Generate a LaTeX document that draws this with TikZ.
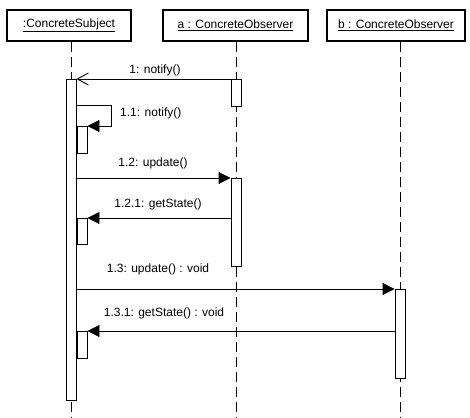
\documentclass[tikz,border=0pt]{standalone}
\usepackage{fontspec}
\setmainfont{Liberation Sans}
\usetikzlibrary{arrows.meta}

\begin{document}
\begin{tikzpicture}[
        x=1pt, y=-1pt,
        font=\fontsize{12}{14}\selectfont,
        head/.style={draw, line width=1.5pt, minimum height=31pt, inner sep=0pt},
        life/.style={draw, line width=0.9pt, dash pattern=on 10pt off 5pt},
        act/.style={draw, fill=white, line width=0.9pt, minimum width=10pt,
                    inner sep=0pt, anchor=north},
        call/.style={draw, line width=0.9pt, -{Triangle[length=12pt, width=12pt]}},
        async/.style={draw, line width=0.9pt, -{Straight Barb[length=11pt, width=12pt]}},
        lbl/.style={inner sep=0pt, anchor=base},
    ]

    \useasboundingbox (0,0) rectangle (470,417);

    % lifeline heads
    \node[head, minimum width=124pt] (subj) at (69,25.5) {\underline{:ConcreteSubject}};
    \node[head, minimum width=145pt] (obsA) at (235.5,25.5) {\underline{a : ConcreteObserver}};
    \node[head, minimum width=138pt] (obsB) at (396,25.5) {\underline{b : ConcreteObserver}};

    \coordinate (endS) at (71,417);
    \coordinate (endA) at (236,417);
    \coordinate (endB) at (400,417);

    \draw[life] (subj.south -| endS) -- (endS);
    \draw[life] (obsA.south -| endA) -- (endA);
    \draw[life] (obsB.south -| endB) -- (endB);

    % activations
    \node[act, minimum height=321pt] (actS)  at (71,79) {};
    \node[act, minimum height=27pt]  (actA1) at (236,79) {};
    \node[act, minimum height=27pt]  (actS1) at (82,126) {};
    \node[act, minimum height=88pt]  (actA2) at (236,178) {};
    \node[act, minimum height=26pt]  (actS2) at (82,218) {};
    \node[act, minimum height=89pt]  (actB)  at (400,289) {};
    \node[act, minimum height=27pt]  (actS3) at (82,331) {};

    % messages
    \draw[async] (actA1.north west) -- (actS.north east);
    \node[lbl] (l1) at (155,74) {1: notify()};

    \coordinate (self1) at (111,105);
    \draw[call] (actS.east |- self1) -- (self1) |- (actS1.north east);
    \node[lbl, anchor=base west] (l11) at (120,116) {1.1: notify()};

    \draw[call] (actS.east |- actA2.north) -- (actA2.north west);
    \node[lbl] (l12) at (153,166) {1.2: update()};

    \draw[call] (actA2.west |- actS2.north) -- (actS2.north east);
    \node[lbl] (l121) at (158,207) {1.2.1: getState()};

    \draw[call] (actS.east |- actB.north) -- (actB.north west);
    \node[lbl] (l13) at (158,272) {1.3: update() : void};

    \draw[call] (actB.west |- actS3.north) -- (actS3.north east);
    \node[lbl] (l131) at (164,316) {1.3.1: getState() : void};

\end{tikzpicture}
\end{document}
